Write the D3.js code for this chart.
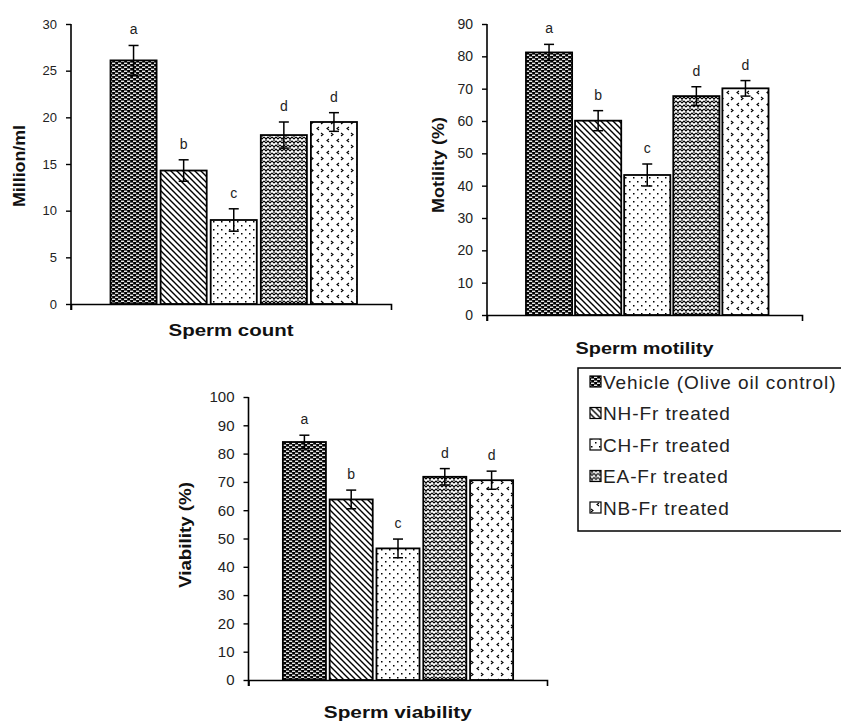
<!DOCTYPE html>
<html>
<head>
<meta charset="utf-8">
<script src="https://cdn.jsdelivr.net/npm/d3@7/dist/d3.min.js"></script>
<style>
  html, body { margin: 0; padding: 0; background: #fff; }
  svg { display: block; font-family: "Liberation Sans", Arial, sans-serif; }
</style>
</head>
<body>
<svg id="chart" width="841" height="725"></svg>
<script>
// ---------- data ----------
const groups = ["Vehicle (Olive oil control)", "NH-Fr treated", "CH-Fr treated", "EA-Fr treated", "NB-Fr treated"];
const sigLetters = ["a", "b", "c", "d", "d"];

const countMean = [26.1, 14.3, 9.0, 18.1, 19.5];
const countSE   = [1.6, 1.15, 1.2, 1.4, 1.0];
const countTicks = [0, 5, 10, 15, 20, 25, 30];

const motilityMean = [81.2, 60.1, 43.3, 67.7, 70.1];
const motilitySE   = [2.5, 3.1, 3.4, 2.9, 2.4];
const motilityTicks = [0, 10, 20, 30, 40, 50, 60, 70, 80, 90];

const viabilityMean = [84.1, 63.8, 46.5, 71.8, 70.6];
const viabilitySE   = [2.4, 3.3, 3.3, 2.9, 3.2];
const viabilityTicks = [0, 10, 20, 30, 40, 50, 60, 70, 80, 90, 100];

const categoryLabels = ["Sperm count", "Sperm motility", "Sperm viability"];
const yTitles = ["Million/ml", "Motility (%)", "Viability (%)"];

// ---------- patterns ----------
const svg = d3.select("#chart");
svg.append("rect").attr("width", 841).attr("height", 725).attr("fill", "#fff");
const defs = svg.append("defs");

// P1: black with white dashes (brick)
let p = defs.append("pattern").attr("id", "pat0").attr("patternUnits", "userSpaceOnUse")
  .attr("width", 6).attr("height", 4);
p.append("rect").attr("width", 6).attr("height", 4).attr("fill", "#000");
p.append("rect").attr("x", 1).attr("y", 0.6).attr("width", 3.2).attr("height", 1.3).attr("fill", "#fff");
p.append("rect").attr("x", 4).attr("y", 2.6).attr("width", 3.2).attr("height", 1.3).attr("fill", "#fff");
p.append("rect").attr("x", -2).attr("y", 2.6).attr("width", 3.2).attr("height", 1.3).attr("fill", "#fff");

// P2: diagonal lines "\"
p = defs.append("pattern").attr("id", "pat1").attr("patternUnits", "userSpaceOnUse")
  .attr("width", 6).attr("height", 6);
p.append("rect").attr("width", 6).attr("height", 6).attr("fill", "#fff");
p.append("path").attr("d", "M-1,-1 L7,7 M-1,5 L1,7 M5,-1 L7,1")
  .attr("stroke", "#000").attr("stroke-width", 1.4);

// P3: sparse dots
p = defs.append("pattern").attr("id", "pat2").attr("patternUnits", "userSpaceOnUse")
  .attr("width", 8).attr("height", 8);
p.append("rect").attr("width", 8).attr("height", 8).attr("fill", "#fff");
p.append("rect").attr("x", 1).attr("y", 1).attr("width", 1.5).attr("height", 1.5).attr("fill", "#000");
p.append("rect").attr("x", 5).attr("y", 5).attr("width", 1.5).attr("height", 1.5).attr("fill", "#000");

// P4: zigzag weave
p = defs.append("pattern").attr("id", "pat3").attr("patternUnits", "userSpaceOnUse")
  .attr("width", 8).attr("height", 8);
p.append("rect").attr("width", 8).attr("height", 8).attr("fill", "#fff");
p.append("path").attr("d", "M0,1 L2,3 L4,1 L6,3 L8,1 M0,5 L2,7 L4,5 L6,7 L8,5 M2,3 L2,5 M6,7 L6,9 M6,-1 L6,1")
  .attr("stroke", "#000").attr("stroke-width", 1.1).attr("fill", "none");

// P5: < and > marks
p = defs.append("pattern").attr("id", "pat4").attr("patternUnits", "userSpaceOnUse")
  .attr("width", 10).attr("height", 12);
p.append("rect").attr("width", 10).attr("height", 12).attr("fill", "#fff");
p.append("path").attr("d", "M1,1 L3,2.5 L1,4 M9,7 L7,8.5 L9,10")
  .attr("stroke", "#000").attr("stroke-width", 1.1).attr("fill", "none");

const fills = groups.map((g, i) => `url(#pat${i})`);

// ---------- panels ----------
const panels = [
  { mean: countMean, se: countSE, ticks: countTicks, max: 30,
    axX: 71, axRight: 391, y0: 304, yTop: 24, bars: [108.5, 359], pIn: 0.08,
    tickFont: 13, titleX: 19, titleY: 166, titleLen: 82, catPad: 21, catLen: 125, catFont: 16 },
  { mean: motilityMean, se: motilitySE, ticks: motilityTicks, max: 90,
    axX: 487, axRight: 802, y0: 315, yTop: 24, bars: [524, 770.5], pIn: 0.06,
    tickFont: 14, titleX: 438, titleY: 165, titleLen: 96, catPad: 28, catLen: 138, catFont: 16 },
  { mean: viabilityMean, se: viabilitySE, ticks: viabilityTicks, max: 100,
    axX: 248.5, axRight: 547, y0: 680, yTop: 397, bars: [281, 515], pIn: 0.08,
    tickFont: 15, titleX: 185, titleY: 535, titleLen: 106, catPad: 26, catLen: 148, catFont: 17 }
];

panels.forEach((P, k) => {
  const g = svg.append("g");
  const y = d3.scaleLinear().domain([0, P.max]).range([P.y0, P.yTop]);
  const x = d3.scaleBand().domain(groups).range(P.bars).paddingInner(P.pIn).paddingOuter(0.04);

  // bars
  g.selectAll("rect.bar").data(groups).join("rect")
    .attr("class", "bar")
    .attr("x", d => x(d))
    .attr("width", x.bandwidth())
    .attr("y", (d, i) => y(P.mean[i]))
    .attr("height", (d, i) => y(0) - y(P.mean[i]))
    .attr("fill", (d, i) => fills[i])
    .attr("stroke", "#000").attr("stroke-width", 1.8);

  // error bars
  const eb = g.selectAll("g.err").data(groups).join("g").attr("class", "err");
  eb.append("line")
    .attr("x1", d => x(d) + x.bandwidth() / 2).attr("x2", d => x(d) + x.bandwidth() / 2)
    .attr("y1", (d, i) => y(P.mean[i] - P.se[i])).attr("y2", (d, i) => y(P.mean[i] + P.se[i]))
    .attr("stroke", "#000").attr("stroke-width", 1.5);
  eb.append("line")
    .attr("x1", d => x(d) + x.bandwidth() / 2 - 5).attr("x2", d => x(d) + x.bandwidth() / 2 + 5)
    .attr("y1", (d, i) => y(P.mean[i] + P.se[i])).attr("y2", (d, i) => y(P.mean[i] + P.se[i]))
    .attr("stroke", "#000").attr("stroke-width", 1.5);
  eb.append("line")
    .attr("x1", d => x(d) + x.bandwidth() / 2 - 5).attr("x2", d => x(d) + x.bandwidth() / 2 + 5)
    .attr("y1", (d, i) => y(P.mean[i] - P.se[i])).attr("y2", (d, i) => y(P.mean[i] - P.se[i]))
    .attr("stroke", "#000").attr("stroke-width", 1.5);

  // significance letters
  g.selectAll("text.sig").data(groups).join("text")
    .attr("class", "sig")
    .attr("x", d => x(d) + x.bandwidth() / 2)
    .attr("y", (d, i) => y(P.mean[i] + P.se[i]) - 11)
    .attr("text-anchor", "middle")
    .attr("font-size", 14).attr("fill", "#222")
    .text((d, i) => sigLetters[i]);

  // y axis
  const yAxis = g.append("g").attr("transform", `translate(${P.axX},0)`)
    .call(d3.axisLeft(y).tickValues(P.ticks).tickSize(5).tickSizeOuter(0).tickPadding(9));
  yAxis.select(".domain").attr("stroke", "#000").attr("stroke-width", 1.6)
    .attr("d", `M0,${P.yTop}V${P.y0 + 6}`);
  yAxis.selectAll(".tick line").attr("stroke", "#000").attr("stroke-width", 1.4);
  yAxis.selectAll(".tick text").attr("font-size", P.tickFont).attr("fill", "#222")
    .attr("font-family", "'Liberation Sans', Arial, sans-serif");

  // x axis (single category)
  const xc = d3.scaleBand().domain([categoryLabels[k]]).range([P.axX, P.axRight]);
  const xAxis = g.append("g").attr("transform", `translate(0,${P.y0})`)
    .call(d3.axisBottom(xc).tickSize(0).tickSizeOuter(6).tickPadding(P.catPad));
  xAxis.select(".domain").attr("stroke", "#000").attr("stroke-width", 1.6);
  xAxis.selectAll(".tick text").attr("font-size", P.catFont).attr("font-weight", "bold")
    .attr("fill", "#111").attr("font-family", "'Liberation Sans', Arial, sans-serif")
    .attr("textLength", P.catLen).attr("lengthAdjust", "spacingAndGlyphs");

  // y title
  g.append("text")
    .attr("transform", `translate(${P.titleX},${P.titleY}) rotate(-90)`)
    .attr("text-anchor", "middle").attr("dy", "0.35em")
    .attr("font-size", 16).attr("font-weight", "bold").attr("fill", "#111")
    .attr("textLength", P.titleLen).attr("lengthAdjust", "spacingAndGlyphs")
    .text(yTitles[k]);
});

// ---------- legend ----------
const lg = svg.append("g");
lg.append("rect").attr("x", 578).attr("y", 368).attr("width", 300).attr("height", 163)
  .attr("fill", "#fff").attr("stroke", "#000").attr("stroke-width", 1.5);
const items = lg.selectAll("g.item").data(groups).join("g").attr("class", "item")
  .attr("transform", (d, i) => `translate(590,${382 + i * 31.5})`);
items.append("rect").attr("x", 0).attr("y", -6).attr("width", 11).attr("height", 11)
  .attr("fill", (d, i) => fills[i]).attr("stroke", "#000").attr("stroke-width", 1.2);
items.append("text").attr("x", 13).attr("y", 0).attr("dy", "0.35em")
  .attr("font-size", 19).attr("letter-spacing", 0.9).attr("fill", "#222")
  .text(d => d);
</script>
</body>
</html>
